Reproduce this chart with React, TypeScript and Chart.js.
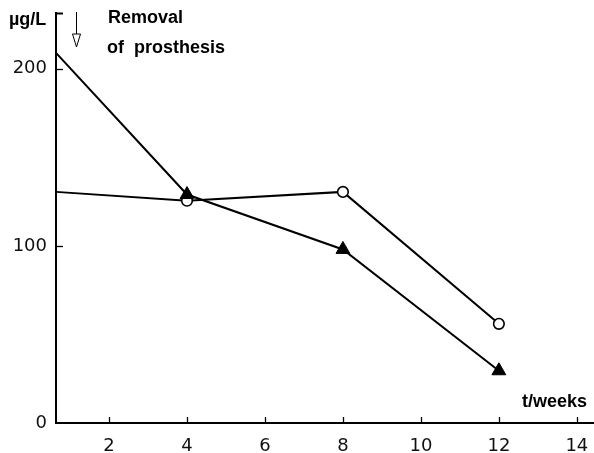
import React, { useEffect, useRef } from "react";
import { Chart, registerables } from "chart.js";

Chart.register(...registerables);

// Data
const weeks = [0.64, 4, 8, 12];
const triangleSeries = [209, 129, 98, 29.5];
const circleSeries = [130.5, 125.5, 130.5, 56];
const xTickValues = [2, 4, 6, 8, 10, 12, 14];
const yTickValues = [0, 100, 200];
const yInnerTicks = [100, 200];
const xMin = 0.64;
const xMax = 14.44;
const yMin = 0;
const yMax = 231.5;
const removalWeek = 1.15;

const overlayPlugin = {
  id: "overlay",
  afterDraw(chart: any) {
    const { ctx, chartArea, scales } = chart;
    const x = scales.x;
    const y = scales.y;
    ctx.save();
    ctx.strokeStyle = "#000";
    ctx.fillStyle = "#000";
    ctx.lineWidth = 1.3;
    // inward x ticks
    xTickValues.forEach((v) => {
      const px = Math.round(x.getPixelForValue(v)) + 0.5;
      ctx.beginPath();
      ctx.moveTo(px, chartArea.bottom);
      ctx.lineTo(px, chartArea.bottom - 6);
      ctx.stroke();
    });
    // inward y ticks, incl. top bracket
    [...yInnerTicks, yMax].forEach((v) => {
      const py = Math.round(y.getPixelForValue(v)) + 0.5;
      ctx.lineWidth = v === yMax ? 2 : 1.3;
      ctx.beginPath();
      ctx.moveTo(chartArea.left - 1, py);
      ctx.lineTo(chartArea.left + 7, py);
      ctx.stroke();
    });
    // arrow marking removal
    const ax = Math.round(x.getPixelForValue(removalWeek)) + 0.5;
    ctx.lineWidth = 1;
    ctx.beginPath();
    ctx.moveTo(ax, 12);
    ctx.lineTo(ax, 34);
    ctx.stroke();
    ctx.beginPath();
    ctx.moveTo(ax - 4, 34);
    ctx.lineTo(ax + 4, 34);
    ctx.lineTo(ax, 47);
    ctx.closePath();
    ctx.fillStyle = "#fff";
    ctx.fill();
    ctx.stroke();
    // texts
    ctx.fillStyle = "#000";
    ctx.textBaseline = "alphabetic";
    ctx.textAlign = "left";
    ctx.font = "bold 18px 'Liberation Sans', Arial, sans-serif";
    ctx.fillText("µg/L", 9, 25);
    ctx.fillText("Removal", 108, 23);
    ctx.fillText("of  prosthesis", 107, 53);
    ctx.fillText("t/weeks", 522, 407);
    ctx.restore();
  },
};

export default function App() {
  const canvasRef = useRef<HTMLCanvasElement | null>(null);

  useEffect(() => {
    document.body.style.margin = "0";
    const canvas = canvasRef.current;
    if (!canvas) return;
    const tickFont = { family: "'DejaVu Sans', sans-serif", size: 18 };
    const chart = new Chart(canvas, {
      type: "line",
      data: {
        datasets: [
          {
            label: "triangles",
            data: weeks.map((w, i) => ({ x: w, y: triangleSeries[i] })),
            borderColor: "#000",
            backgroundColor: "#000",
            borderWidth: 2,
            pointStyle: "triangle",
            pointRadius: (ctx: any) => (ctx.dataIndex === 0 ? 0 : 8),
            pointBackgroundColor: "#000",
            pointBorderColor: "#000",
            pointBorderWidth: 1,
            tension: 0,
            clip: false as any,
          },
          {
            label: "circles",
            data: weeks.map((w, i) => ({ x: w, y: circleSeries[i] })),
            borderColor: "#000",
            backgroundColor: "#fff",
            borderWidth: 2,
            pointStyle: "circle",
            pointRadius: (ctx: any) => (ctx.dataIndex === 0 ? 0 : 5.3),
            pointBackgroundColor: "#fff",
            pointBorderColor: "#000",
            pointBorderWidth: 1.6,
            tension: 0,
            clip: false as any,
          },
        ],
      },
      options: {
        animation: false,
        responsive: false,
        events: [],
        layout: { autoPadding: false, padding: { top: 13, right: 0, left: 0, bottom: 0 } },
        plugins: {
          legend: { display: false },
          tooltip: { enabled: false },
        },
        scales: {
          x: {
            type: "linear",
            min: xMin,
            max: xMax,
            grid: { display: false },
            border: { display: true, color: "#000", width: 2 },
            ticks: {
              color: "#111",
              font: tickFont,
              padding: 5,
              maxRotation: 0,
              autoSkip: false,
              includeBounds: false,
            },
            afterBuildTicks: (scale: any) => {
              scale.ticks = xTickValues.map((value) => ({ value }));
            },
            afterFit: (scale: any) => {
              scale.height = 30;
              scale.paddingLeft = 0;
              scale.paddingRight = 0;
            },
          },
          y: {
            type: "linear",
            min: yMin,
            max: yMax,
            grid: { display: false },
            border: { display: true, color: "#000", width: 2 },
            ticks: {
              color: "#111",
              font: tickFont,
              padding: 1,
              includeBounds: false,
            },
            afterBuildTicks: (scale: any) => {
              scale.ticks = yTickValues.map((value) => ({ value }));
            },
            afterFit: (scale: any) => {
              scale.width = 56;
              scale.paddingTop = 0;
              scale.paddingBottom = 0;
            },
          },
        },
      },
      plugins: [overlayPlugin],
    });
    return () => chart.destroy();
  }, []);

  return (
    <div style={{ width: 594, height: 453 }}>
      <canvas ref={canvasRef} width={594} height={453} style={{ display: "block" }} />
    </div>
  );
}
